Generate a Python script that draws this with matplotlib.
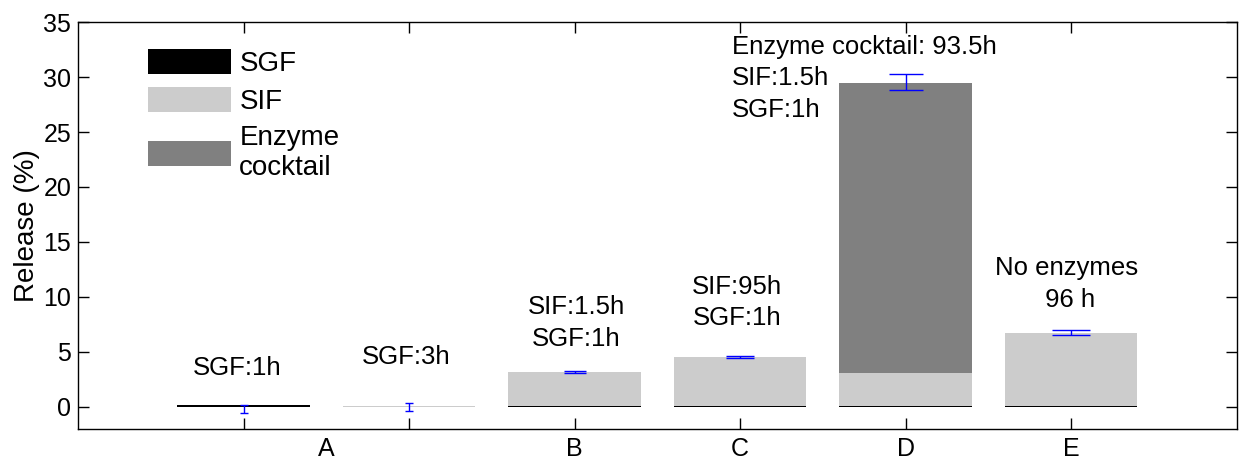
import numpy as np
import matplotlib
matplotlib.use("Agg")
import matplotlib.pyplot as plt
from matplotlib.patches import Patch

plt.rcParams['font.family'] = ['Liberation Sans', 'DejaVu Sans']

# data
positions = [1, 2, 3, 4, 5, 6]
sgf = [0.2, 0.0, 0.1, 0.1, 0.1, 0.1]
sif = [0.0, 0.06, 3.03, 4.42, 3.0, 6.63]
enzyme = [0.0, 0.0, 0.0, 0.0, 26.4, 0.0]
err_mean = [-0.18, -0.03, 3.15, 4.5, 29.55, 6.75]
err_sd = [0.36, 0.39, 0.1, 0.1, 0.75, 0.25]
tick_labels = ['', '', 'B', 'C', 'D', 'E']
group_a_pos = 1.5
annotations = [
    (0.96, 3.5, 'SGF:1h'),
    (1.98, 4.5, 'SGF:3h'),
    (3.01, 7.6, 'SIF:1.5h\nSGF:1h'),
    (3.98, 9.5, 'SIF:95h\nSGF:1h'),
    (5.97, 11.15, 'No enzymes\n 96 h'),
]
d_note = (3.95, 29.9, 'Enzyme cocktail: 93.5h\nSIF:1.5h\nSGF:1h')

# styles
c_sgf, c_sif, c_enz = '#000000', '#cccccc', '#808080'
capsizes = [3, 3, 8, 10, 12, 14]
fs_note = 18.5
fs_tick = 18

fig, ax = plt.subplots(figsize=(12.41, 4.62), dpi=100)
fig.subplots_adjust(left=0.063, right=0.9965, top=0.952, bottom=0.072)

sgf = np.array(sgf)
sif = np.array(sif)
enzyme = np.array(enzyme)
ax.bar(positions, sgf, width=0.8, color=c_sgf, edgecolor='none')
ax.bar(positions, sif, width=0.8, bottom=sgf, color=c_sif, edgecolor='none')
ax.bar(positions, enzyme, width=0.8, bottom=sgf + sif, color=c_enz, edgecolor='none')

for x, m, s, cs in zip(positions, err_mean, err_sd, capsizes):
    ax.errorbar(x, m, yerr=s, fmt='none', ecolor='#0000ff', elinewidth=1,
                capsize=cs, capthick=1)

for x, y, t in annotations:
    ax.text(x, y, t, ha='center', va='center', fontsize=fs_note,
            multialignment='center', linespacing=1.4)
ax.text(d_note[0], d_note[1], d_note[2], ha='left', va='center', fontsize=fs_note,
        linespacing=1.4)

ax.set_xlim(0, 7)
ax.set_ylim(-2, 35)
ax.set_yticks(np.arange(0, 36, 5))
ax.set_xticks(positions)
ax.set_xticklabels(tick_labels)
ax.set_xticks([group_a_pos], ['A'], minor=True)
ax.tick_params(axis='x', which='minor', length=0, labelsize=fs_tick, pad=6)
ax.tick_params(which='major', direction='in', length=8, width=1,
               top=True, right=True, labelsize=fs_tick, pad=6)
ax.tick_params(axis='y', pad=5)
ax.set_ylabel('Release (%)', fontsize=20, labelpad=2)
for sp in ax.spines.values():
    sp.set_linewidth(1)

handles = [Patch(facecolor=c_sgf), Patch(facecolor=c_sif), Patch(facecolor=c_enz)]
ax.legend(handles, ['SGF', 'SIF', 'Enzyme\ncocktail'], loc='upper left',
          bbox_to_anchor=(0.06, 0.933), frameon=False, fontsize=20,
          handlelength=3.0, handleheight=1.0, handletextpad=0.3,
          borderaxespad=0, borderpad=0, labelspacing=0.35)

fig.savefig('out.png', dpi=100)
